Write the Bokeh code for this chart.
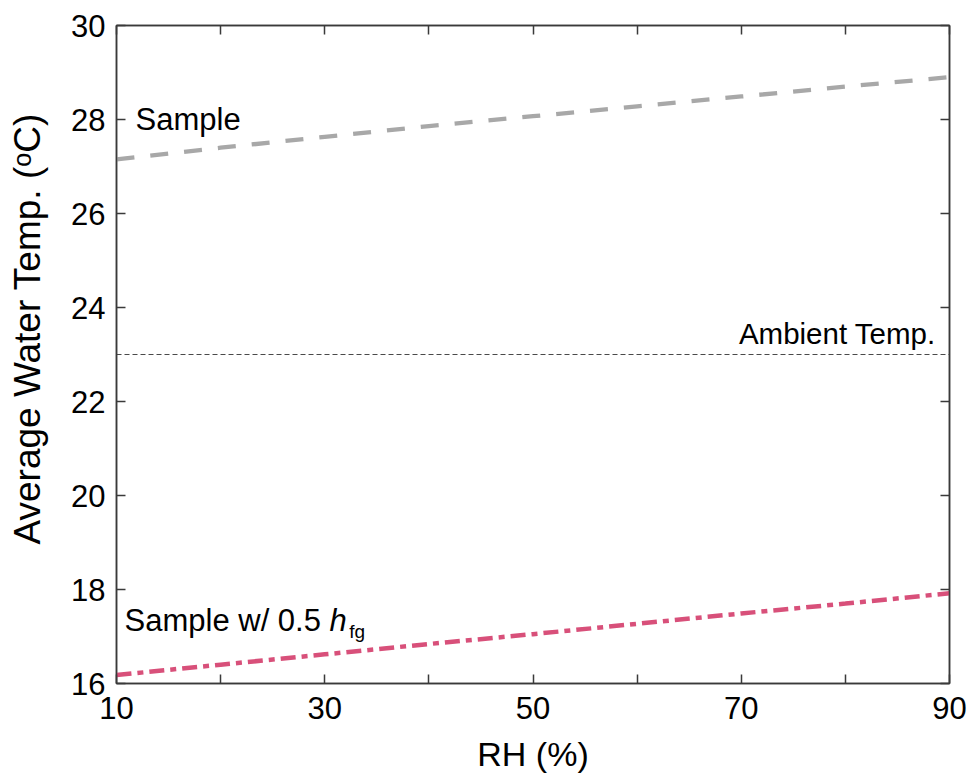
from bokeh.plotting import figure
from bokeh.models import LinearAxis, FixedTicker, Range1d
from bokeh.core.properties import value
from bokeh.embed import file_html
from bokeh.resources import INLINE

# Relative humidity (%) and average water temperature (°C)
rh = [10, 20, 30, 40, 50, 60, 70, 80, 90]
sample_temp = [27.15, 27.40, 27.63, 27.86, 28.07, 28.28, 28.49, 28.70, 28.90]
half_hfg_temp = [16.18, 16.40, 16.62, 16.84, 17.05, 17.27, 17.49, 17.70, 17.92]
ambient_temp = [23.0] * len(rh)

x_major = [10, 30, 50, 70, 90]
x_minor = [20, 40, 60, 80]
y_major = [16, 18, 20, 22, 24, 26, 28, 30]

FONT = "Liberation Sans"
AX = "#3a3a3a"

# leading no-break spaces lift the rotated title a little above the frame's middle
y_title = "\u00a0" * 5 + "Average Water Temp. (ᵒC)"

p = figure(width=972, height=780, output_backend="svg", toolbar_location=None,
           x_range=Range1d(10, 90), y_range=Range1d(16, 30),
           min_border_left=116, min_border_right=23,
           min_border_top=25, min_border_bottom=97,
           x_axis_label="RH (%)", y_axis_label=y_title)
p.background_fill_color = "white"
p.border_fill_color = "white"
p.grid.visible = False
p.outline_line_color = AX
p.outline_line_width = 1.5


def style_axis(ax, labels=True):
    ax.axis_line_color = AX
    ax.axis_line_width = 1.5
    ax.major_tick_line_color = AX
    ax.minor_tick_line_color = AX
    ax.major_tick_line_width = 1.5
    ax.minor_tick_line_width = 1.5
    ax.major_tick_in = 9
    ax.major_tick_out = 0
    ax.minor_tick_in = 9
    ax.minor_tick_out = 0
    ax.major_label_text_font = FONT
    ax.major_label_text_font_size = "31px"
    ax.major_label_text_color = "black"
    ax.axis_label_text_font = FONT
    ax.axis_label_text_font_size = "34px"
    ax.axis_label_text_font_style = "normal"
    ax.axis_label_text_color = "black"
    if not labels:
        # tick marks only: no tick labels painted on this side
        ax.major_label_text_font_size = "0px"
        ax.major_label_text_color = None
        ax.major_label_standoff = 0


xb = p.xaxis[0]
xb.ticker = FixedTicker(ticks=x_major, minor_ticks=x_minor)
style_axis(xb)
xb.major_label_standoff = 13
xb.axis_label_standoff = 13

yl = p.yaxis[0]
yl.ticker = FixedTicker(ticks=y_major, minor_ticks=[])
style_axis(yl)
yl.major_label_standoff = 11
yl.axis_label_standoff = 20
yl.axis_label_text_font_size = "37px"

# mirrored tick marks on the top and right edges
xt = LinearAxis(ticker=FixedTicker(ticks=x_major, minor_ticks=x_minor))
style_axis(xt, labels=False)
p.add_layout(xt, "above")
yr = LinearAxis(ticker=FixedTicker(ticks=y_major, minor_ticks=[]))
style_axis(yr, labels=False)
p.add_layout(yr, "right")

# series
p.line(rh, ambient_temp, line_color="#4a4a4a", line_width=1.2, line_dash="5 3")
p.line(rh, sample_temp, line_color="#a8a8a8", line_width=4.3, line_dash="18 16")
p.line(rh, half_hfg_temp, line_color="#d8507a", line_width=4.5, line_dash="15 6 6 6")

# annotations
p.text(x=[11.83], y=[28.0], text=["Sample"], text_font=value(FONT),
       text_font_size="31px", text_baseline="middle", text_align="left",
       text_color="black")
p.text(x=[88.67], y=[23.44], text=["Ambient Temp."], text_font=value(FONT),
       text_font_size="29.5px", text_baseline="alphabetic", text_align="right",
       text_color="black")
p.text(x=[10.77], y=[17.34], text=["Sample w/ 0.5"], text_font=value(FONT),
       text_font_size="31px", text_baseline="alphabetic", text_align="left",
       text_color="black")
p.text(x=[30.45], y=[17.34], text=["h"], text_font=value(FONT),
       text_font_size="31px", text_font_style="italic",
       text_baseline="alphabetic", text_align="left", text_color="black")
p.text(x=[32.35], y=[17.11], text=["fg"], text_font=value(FONT),
       text_font_size="19px", text_baseline="alphabetic", text_align="left",
       text_color="black")

open("out.html", "w").write(file_html(p, INLINE))
